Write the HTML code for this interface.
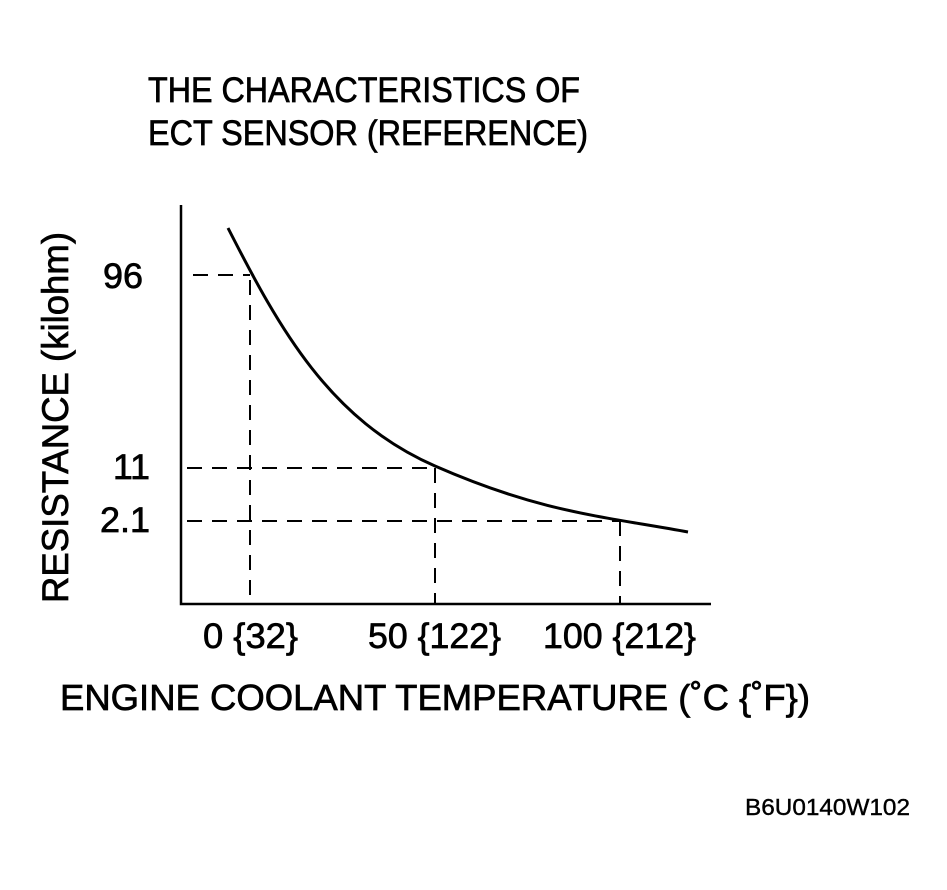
<!DOCTYPE html>
<html><head><meta charset="utf-8"><style>html,body{margin:0;padding:0;background:#fff}svg{display:block}</style></head>
<body>
<svg width="947" height="890" viewBox="0 0 947 890" xmlns="http://www.w3.org/2000/svg" font-family="Liberation Sans, sans-serif" fill="#000">
<g stroke="#000" stroke-width="0.7">
<text x="148" y="102" font-size="35" textLength="432" lengthAdjust="spacingAndGlyphs">THE CHARACTERISTICS OF</text>
<text x="148" y="145" font-size="35" textLength="440" lengthAdjust="spacingAndGlyphs">ECT SENSOR (REFERENCE)</text>
<g font-size="35">
<text x="143" y="288" text-anchor="end" textLength="40" lengthAdjust="spacingAndGlyphs">96</text>
<text x="150" y="479" text-anchor="end" textLength="37" lengthAdjust="spacingAndGlyphs">11</text>
<text x="150" y="532" text-anchor="end" textLength="50" lengthAdjust="spacingAndGlyphs">2.1</text>
<text x="203" y="648" textLength="95" lengthAdjust="spacingAndGlyphs">0 {32}</text>
<text x="368" y="648" textLength="133" lengthAdjust="spacingAndGlyphs">50 {122}</text>
<text x="543" y="648" textLength="153" lengthAdjust="spacingAndGlyphs">100 {212}</text>
</g>
<text x="60" y="710" font-size="36" textLength="750" lengthAdjust="spacingAndGlyphs">ENGINE COOLANT TEMPERATURE (˚C {˚F})</text>
<text transform="translate(68,603) rotate(-90)" font-size="37" textLength="371" lengthAdjust="spacingAndGlyphs">RESISTANCE (kilohm)</text>
<text x="745" y="815" font-size="23" stroke-width="0.4" textLength="165" lengthAdjust="spacingAndGlyphs">B6U0140W102</text>
</g>
<g stroke="#000" fill="none">
<path d="M181 205 V604 H711" stroke-width="2.5"/>
<path d="M228 228 C 280 330, 330 420, 435 466 S 600 516, 688 532" stroke-width="3"/>
<g stroke-width="2" stroke-dasharray="15,10">
<path d="M193 275 H250"/><path d="M250 280 V604"/>
<path d="M187 468 H435"/><path d="M435 468 V604"/>
<path d="M187 521 H620"/><path d="M620 521 V604"/>
</g>
</g>
</svg>
</body></html>
